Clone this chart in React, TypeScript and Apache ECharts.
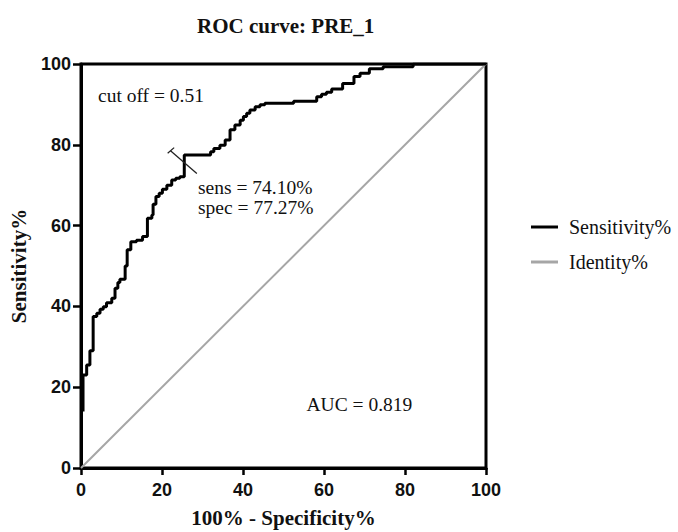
import React, { useEffect, useRef } from "react";
import * as echarts from "echarts";

// ROC curve: vertices of the staircase (x = 100% - Specificity%, y = Sensitivity%)
const fprValues = [0.5, 0.5, 1.4, 2.2, 3.0, 3.9, 4.7, 5.5, 6.3, 7.6, 8.4, 9.1, 9.6, 10.9, 11.4, 12.3, 13.7, 15.2, 16.4, 17.5, 17.8, 18.5, 19.3, 20.1, 21.2, 22.4, 23.4, 24.4, 25.5, 32.0, 32.8, 34.3, 35.6, 36.8, 38.0, 39.3, 40.1, 40.9, 41.7, 43.0, 44.2, 45.4, 52.5, 58.2, 59.4, 60.6, 61.9, 64.6, 67.4, 68.9, 71.2, 74.6, 82.0, 100];
const tprValues = [14, 23, 25.5, 29, 37.5, 38.3, 39.3, 39.9, 40.9, 42, 44.5, 45.9, 46.7, 50, 54, 56, 56.4, 57.3, 61.8, 62.6, 65.3, 67.2, 68, 69, 70, 71.3, 71.7, 72.1, 77.5, 78.3, 79.1, 79.9, 81.2, 83.7, 84.9, 86.1, 87, 87.8, 88.6, 89.4, 89.9, 90.3, 90.8, 91.9, 92.5, 93, 93.8, 95.2, 96.9, 97.7, 98.8, 99.3, 100, 100];
const identityX = [0, 100];
const identityY = [0, 100];
// cut-off marker (leader line and its cap)
const markerX = [22.1, 28.6];
const markerY = [78.5, 72.9];
const capX = [21.4, 23.0];
const capY = [77.9, 79.3];

const titleText = "ROC curve: PRE_1";
const xName = "100% - Specificity%";
const yName = "Sensitivity%";
const seriesNames = ["Sensitivity%", "Identity%"];
const cutoffText = "cut off = 0.51";
const sensText = "sens = 74.10%";
const specText = "spec = 77.27%";
const aucText = "AUC = 0.819";

const serif = "'Liberation Serif', 'Times New Roman', serif";
const sans = "'Liberation Sans', Arial, sans-serif";

export default function App() {
  const ref = useRef<HTMLDivElement>(null);
  useEffect(() => {
    if (!ref.current) return;
    const chart = echarts.init(ref.current, undefined, { renderer: "svg" });
    const zip = (xs: number[], ys: number[]) => xs.map((x, i) => [x, ys[i]]);
    const textStyleAnno = { fontFamily: serif, fontSize: 19.5, fill: "#111", verticalAlign: "middle" };
    chart.setOption({
      animation: false,
      backgroundColor: "#fff",
      title: {
        text: titleText,
        left: 192,
        top: 10,
        textStyle: { fontFamily: serif, fontWeight: "bold", fontSize: 21, color: "#111" },
      },
      legend: {
        orient: "vertical",
        left: 526,
        top: 212,
        itemGap: 15,
        itemWidth: 27,
        itemHeight: 3,
        icon: "rect",
        data: [
          { name: seriesNames[0], itemStyle: { color: "#000" } },
          { name: seriesNames[1], itemStyle: { color: "#a6a6a6" } },
        ],
        textStyle: { fontFamily: serif, fontSize: 20, color: "#111", lineHeight: 20, padding: [0, 0, 0, 6] },
      },
      grid: {
        left: 81,
        right: 192,
        top: 64,
        bottom: 64,
        show: true,
        borderColor: "#000",
        borderWidth: 3,
        containLabel: false,
        outerBoundsMode: "none",
      },
      xAxis: {
        type: "value",
        min: 0,
        max: 100,
        interval: 20,
        name: xName,
        nameLocation: "middle",
        nameGap: 39,
        nameTextStyle: { fontFamily: serif, fontWeight: "bold", fontSize: 21, color: "#111" },
        axisLine: { show: true, lineStyle: { color: "#000", width: 3 } },
        axisTick: { show: true, length: 7, lineStyle: { color: "#000", width: 2.5 } },
        axisLabel: { fontFamily: sans, fontWeight: "bold", fontSize: 18, color: "#111", margin: 13 },
        splitLine: { show: false },
      },
      yAxis: {
        type: "value",
        min: 0,
        max: 100,
        interval: 20,
        name: yName,
        nameLocation: "middle",
        nameGap: 52,
        nameTextStyle: { fontFamily: serif, fontWeight: "bold", fontSize: 21, color: "#111" },
        axisLine: { show: true, lineStyle: { color: "#000", width: 3 } },
        axisTick: { show: true, length: 8, lineStyle: { color: "#000", width: 2.5 } },
        axisLabel: { fontFamily: sans, fontWeight: "bold", fontSize: 18, color: "#111", margin: 10 },
        splitLine: { show: false },
      },
      series: [
        {
          name: seriesNames[1],
          type: "line",
          data: zip(identityX, identityY),
          symbol: "none",
          lineStyle: { color: "#a6a6a6", width: 2 },
          z: 2,
        },
        {
          name: seriesNames[0],
          type: "line",
          data: zip(fprValues, tprValues),
          step: "end",
          symbol: "none",
          lineStyle: { color: "#000", width: 3 },
          z: 3,
        },
        {
          name: "marker",
          type: "line",
          data: zip(markerX, markerY),
          symbol: "none",
          lineStyle: { color: "#222", width: 1.3 },
          z: 4,
        },
        {
          name: "markerCap",
          type: "line",
          data: zip(capX, capY),
          symbol: "none",
          lineStyle: { color: "#222", width: 1.3 },
          z: 4,
        },
      ],
      graphic: [
        { type: "text", x: 98, y: 95, style: { text: cutoffText, ...textStyleAnno } },
        { type: "text", x: 198, y: 187.5, style: { text: sensText, ...textStyleAnno } },
        { type: "text", x: 198, y: 207, style: { text: specText, ...textStyleAnno } },
        { type: "text", x: 306.5, y: 404, style: { text: aucText, ...textStyleAnno } },
      ],
    });
    return () => chart.dispose();
  }, []);
  return (
    <div
      ref={ref}
      style={{ position: "fixed", left: 0, top: 0, width: 678, height: 532, background: "#fff" }}
    />
  );
}
